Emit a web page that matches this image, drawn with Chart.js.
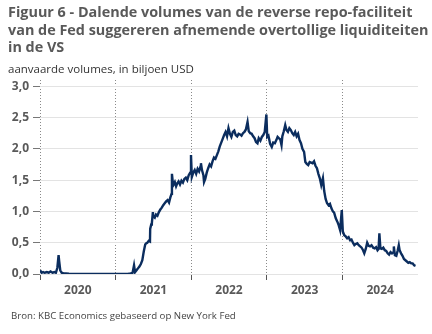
<!DOCTYPE html>
<html>
<head>
<meta charset="utf-8">
<script src="https://cdn.jsdelivr.net/npm/chart.js@4/dist/chart.umd.min.js"></script>
<style>
  body { margin: 0; background: #fff; }
  #wrap { position: relative; width: 432px; height: 334px; overflow: hidden; font-family: "Open Sans", sans-serif; }
  #title { position: absolute; left: 8px; top: 3px; font-size: 14.4px; font-weight: bold; line-height: 17.5px; color: #595959; white-space: nowrap; }
  #sub { position: absolute; left: 8px; top: 61px; font-size: 11.5px; color: #333; }
  #src { position: absolute; left: 11px; top: 309px; font-size: 9.7px; color: #444; }
  canvas { position: absolute; left: 0; top: 0; }
</style>
</head>
<body>
<div id="wrap">
  <canvas id="rrp" width="432" height="334"></canvas>
  <div id="title">Figuur 6 - Dalende volumes van de reverse repo-faciliteit<br>van de Fed suggereren afnemende overtollige liquiditeiten<br>in de VS</div>
  <div id="sub">aanvaarde volumes, in biljoen USD</div>
  <div id="src">Bron: KBC Economics gebaseerd op New York Fed</div>
</div>
<script>
// accepted volumes, trillion USD
const dates2020 = ['01-02','01-09','01-16','01-24','02-03','02-12','02-21','03-02','03-11','03-18','03-25','03-31',
  '04-03','04-08','04-15','04-24','05-06','05-20','06-10','07-15','09-01','11-02','12-31']
const vals2020 = [0.06,0.02,0.03,0.02,0.03,0.02,0.04,0.02,0.03,0.02,0.10,0.30,
  0.20,0.06,0.02,0.01,0.01,0.005,0,0,0,0,0]

const dates2021 = ['01-04','02-01','03-01','03-15','03-24','03-31','04-05','04-12','04-19','04-26',
  '05-03','05-10','05-17','05-24','05-28','06-03','06-10','06-16','06-17','06-22','06-25','06-30',
  '07-02','07-09','07-15','07-22','07-29','08-05','08-12','08-19','08-26','09-02','09-09','09-16','09-22','09-28','09-30',
  '10-04','10-08','10-14','10-20','10-26','11-01','11-08','11-15','11-22','11-29','12-06','12-13','12-20','12-27','12-31']
const vals2021 = [0,0,0,0.01,0.02,0.14,0.03,0.06,0.09,0.12,
  0.16,0.22,0.36,0.47,0.49,0.50,0.53,0.52,0.72,0.79,0.81,0.99,
  0.92,0.90,0.95,0.93,0.99,1.03,1.06,1.10,1.13,1.16,1.18,1.14,1.22,1.28,1.60,
  1.47,1.43,1.47,1.40,1.45,1.48,1.43,1.49,1.46,1.52,1.54,1.50,1.58,1.62,1.90]

const dates2022 = ['01-04','01-11','01-18','01-25','02-01','02-08','02-15','02-17','02-22','03-01','03-04','03-10','03-17','03-24','03-31',
  '04-07','04-14','04-21','04-28','05-05','05-12','05-19','05-26','06-02','06-09','06-16','06-23','06-30',
  '07-07','07-14','07-21','07-28','08-04','08-11','08-18','08-25','09-01','09-08','09-15','09-22','09-30',
  '10-06','10-13','10-20','10-27','11-03','11-10','11-17','11-23','12-01','12-08','12-15','12-22','12-30']
const vals2022 = [1.55,1.62,1.66,1.60,1.68,1.64,1.72,1.77,1.66,1.58,1.47,1.52,1.62,1.69,1.75,
  1.72,1.80,1.86,1.84,1.90,1.96,2.04,2.10,2.16,2.22,2.27,2.20,2.33,
  2.24,2.19,2.27,2.29,2.22,2.20,2.24,2.23,2.21,2.25,2.27,2.31,2.43,
  2.28,2.25,2.24,2.20,2.17,2.11,2.09,2.17,2.13,2.19,2.22,2.27,2.55]

const dates2023 = ['01-03','01-09','01-17','01-25','02-01','02-09','02-16','02-22','02-28','03-07','03-13','03-17','03-24','03-31',
  '04-06','04-13','04-20','04-27','05-04','05-11','05-18','05-25','06-01','06-08','06-15','06-22','06-30',
  '07-06','07-13','07-20','07-27','08-03','08-10','08-17','08-24','08-31','09-07','09-14','09-21','09-29',
  '10-05','10-12','10-19','10-26','11-02','11-09','11-16','11-22','11-30','12-07','12-14','12-21','12-29']
const vals2023 = [2.19,2.21,2.08,2.03,2.10,2.09,2.14,2.19,2.17,2.15,2.06,2.20,2.28,2.38,
  2.30,2.27,2.33,2.30,2.25,2.22,2.27,2.20,2.24,2.14,2.09,2.00,1.95,
  1.79,1.76,1.74,1.79,1.78,1.77,1.80,1.73,1.69,1.60,1.53,1.42,1.53,
  1.33,1.20,1.13,1.10,1.12,1.05,1.00,0.98,0.89,0.84,0.78,0.70,1.02]

const dates2024 = ['01-03','01-10','01-17','01-24','01-31','02-07','02-14','02-21','02-28','03-06','03-13','03-20','03-27',
  '04-03','04-10','04-16','04-23','04-30','05-07','05-14','05-21','05-29','06-05','06-12','06-19','06-24','06-28',
  '07-03','07-10','07-17','07-24','07-31','08-07','08-14','08-21','08-28','09-04','09-06','09-11','09-18','09-25','09-30',
  '10-04','10-11','10-18','10-25','11-01','11-08','11-15','11-22','11-29','12-06','12-13','12-20']
const vals2024 = [0.68,0.62,0.60,0.57,0.59,0.54,0.55,0.50,0.46,0.48,0.49,0.46,0.44,
  0.42,0.38,0.33,0.40,0.50,0.45,0.44,0.46,0.42,0.41,0.43,0.38,0.40,0.65,
  0.41,0.40,0.42,0.38,0.37,0.33,0.31,0.35,0.33,0.35,0.44,0.30,0.29,0.38,0.46,
  0.38,0.33,0.29,0.24,0.22,0.20,0.18,0.19,0.17,0.17,0.14,0.13]

const years = ['2020','2021','2022','2023','2024']
const yTicks = [0, 0.5, 1, 1.5, 2, 2.5, 3]

// date string -> decimal year for the linear x axis
function toYear(s) {
  const d = Date.parse(s + 'T00:00:00Z')
  const y = new Date(d).getUTCFullYear()
  const a = Date.UTC(y, 0, 1), b = Date.UTC(y + 1, 0, 1)
  return y + (d - a) / (b - a)
}

const allDates = [dates2020, dates2021, dates2022, dates2023, dates2024]
const allVals = [vals2020, vals2021, vals2022, vals2023, vals2024]
const points = []
allDates.forEach((ds, i) => {
  ds.forEach((d, j) => points.push({ x: toYear(years[i] + '-' + d), y: allVals[i][j] }))
})

const grey = '#595959'

new Chart(document.getElementById('rrp'), {
  type: 'line',
  data: {
    datasets: [{
      data: points,
      borderColor: '#0b2d5e',
      borderWidth: 2.4,
      pointRadius: 0,
      tension: 0
    }]
  },
  options: {
    responsive: false,
    animation: false,
    layout: { padding: { top: 80, right: 14, left: 0, bottom: 0 } },
    plugins: { legend: { display: false }, tooltip: { enabled: false } },
    scales: {
      x: {
        type: 'linear',
        min: 2020,
        max: 2025,
        afterBuildTicks: s => { s.ticks = []; years.forEach(y => { s.ticks.push({ value: +y }); s.ticks.push({ value: +y + 0.5 }) }); s.ticks.push({ value: 2025 }) },
        afterFit: s => { s.height = 60 },
        border: { display: false, dash: [1, 2] },
        grid: {
          color: c => (c.tick && Number.isInteger(c.tick.value) && c.tick.value < 2025) ? '#8a8a8a' : 'rgba(0,0,0,0)',
          tickColor: c => (c.tick && Number.isInteger(c.tick.value) && c.tick.value < 2025) ? '#555' : 'rgba(0,0,0,0)',
          lineWidth: 1,
          tickLength: 6
        },
        ticks: {
          autoSkip: false,
          maxRotation: 0,
          padding: 3,
          color: grey,
          font: { family: 'Open Sans', size: 12, weight: 'bold' },
          callback: v => Number.isInteger(v) ? '' : String(Math.floor(v))
        }
      },
      y: {
        min: 0,
        max: 3.1,
        afterBuildTicks: s => { s.ticks = yTicks.map(v => ({ value: v })) },
        afterFit: s => { s.width = 40 },
        border: { display: false },
        grid: { color: '#e3e3e3', lineWidth: 1, tickColor: '#777', tickLength: 7 },
        ticks: {
          padding: 4,
          color: grey,
          font: { family: 'Open Sans', size: 12, weight: 'bold' },
          callback: v => v.toFixed(1).replace('.', ',')
        }
      }
    }
  }
})
</script>
</body>
</html>
